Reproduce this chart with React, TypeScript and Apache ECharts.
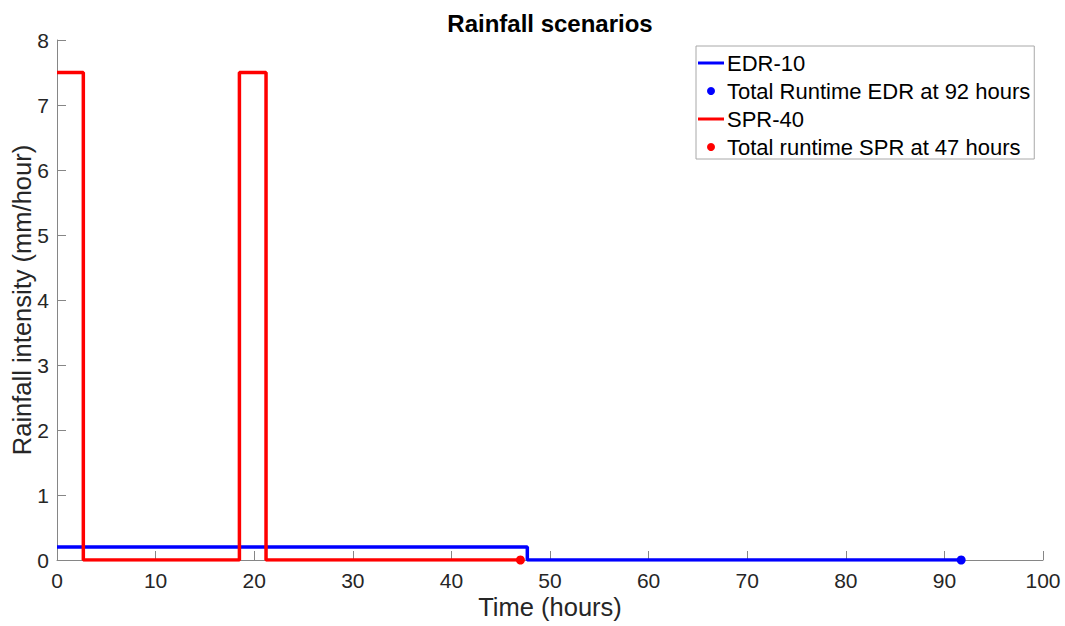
import React, { useEffect, useRef } from "react";
import * as echarts from "echarts";

const edrX = [0, 47.7, 91.7];
const edrY = [0.2, 0, 0];
const sprX = [0, 2.67, 18.5, 21.2, 47];
const sprY = [7.5, 0, 7.5, 0, 0];
const edrEnd = [91.7, 0];
const sprEnd = [47, 0];
const names = ["EDR-10", "Total Runtime EDR at 92 hours", "SPR-40", "Total runtime SPR at 47 hours"];

const FONT = "'Liberation Sans', Arial, Helvetica, sans-serif";
const LINE_ICON = "path://M0,0 L26,0 L26,3 L0,3 Z";

export default function App() {
  const ref = useRef<HTMLDivElement>(null);
  useEffect(() => {
    if (!ref.current) return;
    const chart = echarts.init(ref.current, undefined, { renderer: "svg" });
    const axisColor = "#868686";
    chart.setOption({
      animation: false,
      backgroundColor: "#ffffff",
      title: {
        text: "Rainfall scenarios",
        left: 545,
        top: 6,
        textAlign: "center",
        textStyle: { fontFamily: FONT, fontSize: 24, fontWeight: "bold", color: "#000" },
      },
      legend: {
        left: 696,
        top: 46,
        orient: "vertical",
        itemWidth: 26,
        itemHeight: 8,
        itemGap: 4,
        padding: [5, 4, 0, 2],
        borderColor: "#a8a8a8",
        borderWidth: 1,
        backgroundColor: "#fff",
        textStyle: { fontFamily: FONT, fontSize: 22, color: "#000", lineHeight: 24, padding: [0, 0, 0, -2] },
        data: [
          { name: names[0], icon: LINE_ICON },
          { name: names[1], icon: "circle" },
          { name: names[2], icon: LINE_ICON },
          { name: names[3], icon: "circle" },
        ],
      },
      grid: { left: 57, right: 22, top: 40, bottom: 66, containLabel: false, outerBoundsMode: "none" },
      xAxis: {
        type: "value",
        min: 0,
        max: 100,
        interval: 10,
        name: "Time (hours)",
        nameLocation: "middle",
        nameGap: 34,
        nameMoveOverlap: false,
        nameTextStyle: { fontFamily: FONT, fontSize: 25.5, color: "#262626" },
        axisLine: { lineStyle: { color: axisColor, width: 1 } },
        axisTick: { inside: true, length: 9, lineStyle: { color: axisColor } },
        axisLabel: { fontFamily: FONT, fontSize: 21, color: "#262626", margin: 10 },
        splitLine: { show: false },
      },
      yAxis: {
        type: "value",
        min: 0,
        max: 8,
        interval: 1,
        name: "Rainfall intensity (mm/hour)",
        nameLocation: "middle",
        nameGap: 22,
        nameMoveOverlap: false,
        nameTextStyle: { fontFamily: FONT, fontSize: 25.5, color: "#262626" },
        axisLine: { show: true, lineStyle: { color: axisColor, width: 1 } },
        axisTick: { show: true, inside: true, length: 9, lineStyle: { color: axisColor } },
        axisLabel: { fontFamily: FONT, fontSize: 21, color: "#262626", margin: 8 },
        splitLine: { show: false },
      },
      series: [
        {
          name: names[0],
          type: "line",
          step: "end",
          symbol: "none",
          data: edrX.map((x, i) => [x, edrY[i]]),
          lineStyle: { color: "#0000ff", width: 3.5 },
          itemStyle: { color: "#0000ff" },
          z: 2,
        },
        {
          name: names[1],
          type: "scatter",
          symbol: "circle",
          symbolSize: 9,
          data: [edrEnd],
          itemStyle: { color: "#0000ff", opacity: 1 },
          z: 3,
        },
        {
          name: names[2],
          type: "line",
          step: "end",
          symbol: "none",
          data: sprX.map((x, i) => [x, sprY[i]]),
          lineStyle: { color: "#ff0000", width: 3.5 },
          itemStyle: { color: "#ff0000" },
          z: 4,
        },
        {
          name: names[3],
          type: "scatter",
          symbol: "circle",
          symbolSize: 9,
          data: [sprEnd],
          itemStyle: { color: "#ff0000", opacity: 1 },
          z: 5,
        },
      ],
    });
    return () => chart.dispose();
  }, []);
  return <div ref={ref} style={{ width: 1065, height: 626, position: "absolute", left: 0, top: 0 }} />;
}
